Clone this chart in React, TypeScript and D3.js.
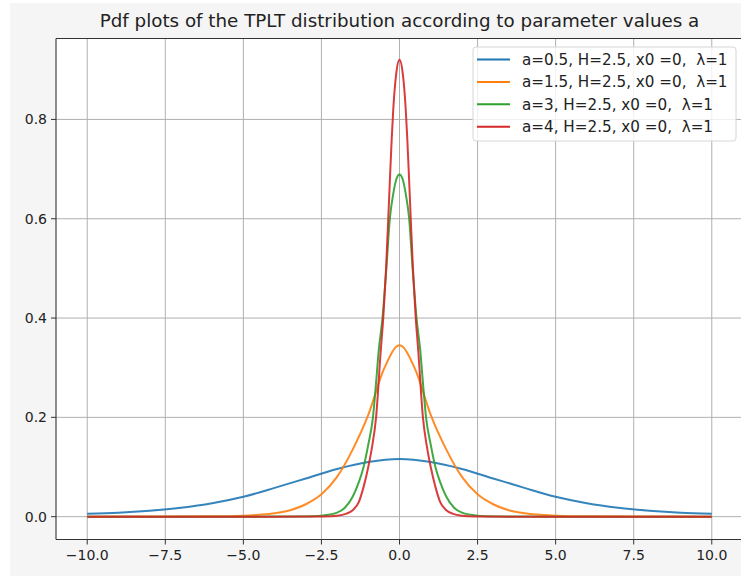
import React from 'react';
import * as d3 from 'd3';

// values
const titleText = 'Pdf plots of the TPLT distribution according to parameter values a';
const seriesNames = [
  'a=0.5, H=2.5, x0 =0,  λ=1',
  'a=1.5, H=2.5, x0 =0,  λ=1',
  'a=3, H=2.5, x0 =0,  λ=1',
  'a=4, H=2.5, x0 =0,  λ=1',
];
const seriesColors = ['#1f77b4', '#ff7f0e', '#2ca02c', '#d62728'];

const blueX = [-10, -9, -8, -7, -6, -5, -4, -3, -2, -1, 0, 1, 2, 3, 4, 5, 6, 7, 8, 9, 10];
const blueY = [0.006, 0.008, 0.012, 0.018, 0.027, 0.04, 0.058, 0.077, 0.096, 0.110, 0.116,
  0.110, 0.096, 0.077, 0.058, 0.04, 0.027, 0.018, 0.012, 0.008, 0.006];

const orangeX = [-10, -8, -6, -5, -4.5, -4, -3.5, -3, -2.5, -2, -1.5, -1, -0.5, 0,
  0.5, 1, 1.5, 2, 2.5, 3, 3.5, 4, 4.5, 5, 6, 8, 10];
const orangeY = [0, 0.0002, 0.0006, 0.002, 0.004, 0.007, 0.013, 0.025, 0.045, 0.08, 0.135, 0.205, 0.297, 0.345,
  0.297, 0.205, 0.135, 0.08, 0.045, 0.025, 0.013, 0.007, 0.004, 0.002, 0.0006, 0.0002, 0];

const greenX = [-10, -5, -4, -3, -2.5, -2, -1.75, -1.5, -1.3, -1.15, -1, -0.85, -0.75, -0.665, -0.545, -0.42, -0.31, -0.2, -0.1, 0,
  0.1, 0.2, 0.31, 0.42, 0.545, 0.665, 0.75, 0.85, 1, 1.15, 1.3, 1.5, 1.75, 2, 2.5, 3, 4, 5, 10];
const greenY = [0, 0, 0.0001, 0.0005, 0.002, 0.008, 0.018, 0.04, 0.07, 0.1, 0.145, 0.2, 0.27, 0.335, 0.4, 0.5, 0.6, 0.65, 0.68, 0.689,
  0.68, 0.65, 0.6, 0.5, 0.4, 0.335, 0.27, 0.2, 0.145, 0.1, 0.07, 0.04, 0.018, 0.008, 0.002, 0.0005, 0.0001, 0, 0];

const redX = [-10, -4, -3, -2.5, -2, -1.7, -1.5, -1.3, -1.15, -1, -0.88, -0.75, -0.6, -0.52, -0.43, -0.34, -0.3, -0.25, -0.2, -0.1, 0,
  0.1, 0.2, 0.25, 0.3, 0.34, 0.43, 0.52, 0.6, 0.75, 0.88, 1, 1.15, 1.3, 1.5, 1.7, 2, 2.5, 3, 4, 10];
const redY = [0, 0, 0.0001, 0.0005, 0.002, 0.006, 0.013, 0.03, 0.06, 0.1, 0.14, 0.2, 0.335, 0.4, 0.5, 0.63, 0.69, 0.76, 0.82, 0.895, 0.92,
  0.895, 0.82, 0.76, 0.69, 0.63, 0.5, 0.4, 0.335, 0.2, 0.14, 0.1, 0.06, 0.03, 0.013, 0.006, 0.002, 0.0005, 0.0001, 0, 0];

const xTicks = [-10, -7.5, -5, -2.5, 0, 2.5, 5, 7.5, 10];
const yTicks = [0, 0.2, 0.4, 0.6, 0.8];

const W = 741, H = 576;
const FONT = 'DejaVu Sans, sans-serif';

export default function App() {
  const x = d3.scaleLinear().domain([-11, 11]).range([56, 743]);
  const y = d3.scaleLinear().domain([-0.046, 0.963]).range([539.5, 38.5]);
  const line = d3.line<[number, number]>()
    .x(d => x(d[0]))
    .y(d => y(d[1]))
    .curve(d3.curveMonotoneX);

  const series = [
    d3.zip(blueX, blueY),
    d3.zip(orangeX, orangeY),
    d3.zip(greenX, greenY),
    d3.zip(redX, redY),
  ] as [number, number][][];

  const [x0, x1] = x.range();
  const [yb, yt] = y.range();
  const fmtX = (v: number) => (v < 0 ? '\u2212' : '') + Math.abs(v).toFixed(1);

  return (
    <svg width={W} height={H} style={{ position: 'absolute', left: 0, top: 0 }} fontFamily={FONT}>
      <rect width={W} height={H} fill="#ffffff" />
      <rect x={10} y={3} width={W - 10} height={H - 3} fill="#f5f5f5" />
      <rect x={x0} y={yt} width={x1 - x0} height={yb - yt} fill="#ffffff" />

      {/* grid */}
      <g stroke="#b0b0b0" strokeWidth={1}>
        {xTicks.map(t => (
          <line key={'gx' + t} x1={x(t)} x2={x(t)} y1={yt} y2={yb} />
        ))}
        {yTicks.map(t => (
          <line key={'gy' + t} x1={x0} x2={x1} y1={y(t)} y2={y(t)} />
        ))}
      </g>

      {/* curves */}
      <g fill="none" strokeWidth={2}>
        {series.map((s, i) => (
          <path key={i} d={line(s) || ''} stroke={seriesColors[i]} strokeLinejoin="round" strokeOpacity={0.9} />
        ))}
      </g>

      {/* spines */}
      <g stroke="#333" strokeWidth={1.1} fill="none">
        <line x1={x0} x2={x0} y1={yt} y2={yb} />
        <line x1={x0} x2={x1} y1={yb} y2={yb} />
        <line x1={x0} x2={x1} y1={yt} y2={yt} />
      </g>

      {/* x ticks */}
      <g fontSize={14} fill="#222" textAnchor="middle">
        {xTicks.map(t => (
          <g key={'xt' + t}>
            <line x1={x(t)} x2={x(t)} y1={yb} y2={yb + 5} stroke="#333" strokeWidth={1} />
            <text x={x(t)} y={yb + 20}>{fmtX(t)}</text>
          </g>
        ))}
      </g>

      {/* y ticks */}
      <g fontSize={14} fill="#222" textAnchor="end">
        {yTicks.map(t => (
          <g key={'yt' + t}>
            <line x1={x0 - 5} x2={x0} y1={y(t)} y2={y(t)} stroke="#333" strokeWidth={1} />
            <text x={x0 - 9} y={y(t)} dy="0.36em">{t.toFixed(1)}</text>
          </g>
        ))}
      </g>

      <text x={(x0 + x1) / 2} y={27} fontSize={18.3} textAnchor="middle" fill="#222">{titleText}</text>

      {/* legend */}
      <g>
        <rect x={473} y={47} width={263} height={94} rx={3} fill="#ffffff" fillOpacity={0.8} stroke="#d6d6d6" />
        {seriesNames.map((name, i) => {
          const cy = 59.5 + i * 22.4;
          return (
            <g key={name}>
              <line x1={477} x2={510} y1={cy} y2={cy} stroke={seriesColors[i]} strokeWidth={2} />
              <text x={522} y={cy} dy="0.36em" fontSize={15.2} fill="#222" style={{ whiteSpace: 'pre' }}>{name}</text>
            </g>
          );
        })}
      </g>
    </svg>
  );
}
